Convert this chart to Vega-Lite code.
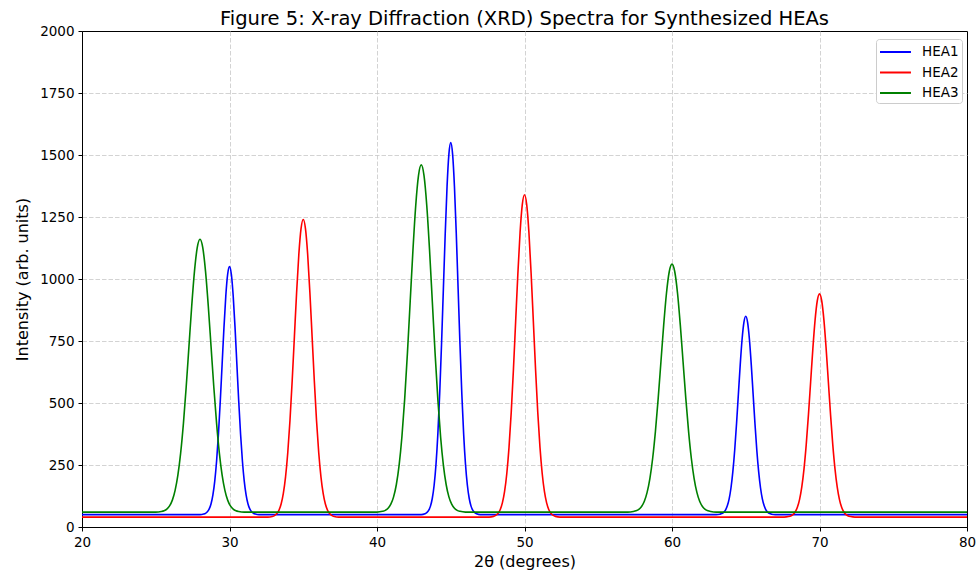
{
"$schema": "https://vega.github.io/schema/vega-lite/v6.json",
"width": 885, "height": 496,
"autosize": {"type": "none"},
"padding": {"left": 82, "top": 31, "right": 11, "bottom": 52},
"background": "white",
"config": {"font": "DejaVu Sans", "view": {"stroke": "black", "strokeWidth": 1}},
"title": {"text": "Figure 5: X-ray Diffraction (XRD) Spectra for Synthesized HEAs", "fontSize": 19.5, "fontWeight": "normal", "color": "black", "offset": 7, "dy": 12, "anchor": "middle"},
"data": {"values": [
{"s":"HEA1","x":20,"y":50},{"s":"HEA1","x":28,"y":50},
{"s":"HEA1","x":28.25,"y":52.2},{"s":"HEA1","x":28.375,"y":55.1},{"s":"HEA1","x":28.5,"y":61.1},{"s":"HEA1","x":28.625,"y":72.8},{"s":"HEA1","x":28.75,"y":93.9},{"s":"HEA1","x":28.875,"y":129.6},{"s":"HEA1","x":29,"y":185.3},{"s":"HEA1","x":29.125,"y":266.3},{"s":"HEA1","x":29.25,"y":374.7},{"s":"HEA1","x":29.375,"y":507.8},{"s":"HEA1","x":29.5,"y":656.5},{"s":"HEA1","x":29.625,"y":804.8},{"s":"HEA1","x":29.75,"y":932.5},{"s":"HEA1","x":29.875,"y":1019.2},{"s":"HEA1","x":30,"y":1050},
{"s":"HEA1","x":30.125,"y":1019.2},{"s":"HEA1","x":30.25,"y":932.5},{"s":"HEA1","x":30.375,"y":804.8},{"s":"HEA1","x":30.5,"y":656.5},{"s":"HEA1","x":30.625,"y":507.8},{"s":"HEA1","x":30.75,"y":374.7},{"s":"HEA1","x":30.875,"y":266.3},{"s":"HEA1","x":31,"y":185.3},{"s":"HEA1","x":31.125,"y":129.6},{"s":"HEA1","x":31.25,"y":93.9},{"s":"HEA1","x":31.375,"y":72.8},{"s":"HEA1","x":31.5,"y":61.1},{"s":"HEA1","x":31.625,"y":55.1},{"s":"HEA1","x":31.75,"y":52.2},{"s":"HEA1","x":32,"y":50},
{"s":"HEA1","x":43,"y":50},
{"s":"HEA1","x":43.25,"y":53.3},{"s":"HEA1","x":43.375,"y":57.6},{"s":"HEA1","x":43.5,"y":66.7},{"s":"HEA1","x":43.625,"y":84.2},{"s":"HEA1","x":43.75,"y":115.9},{"s":"HEA1","x":43.875,"y":169.3},{"s":"HEA1","x":44,"y":253.0},{"s":"HEA1","x":44.125,"y":374.4},{"s":"HEA1","x":44.25,"y":537.0},{"s":"HEA1","x":44.375,"y":736.7},{"s":"HEA1","x":44.5,"y":959.8},{"s":"HEA1","x":44.625,"y":1182.3},{"s":"HEA1","x":44.75,"y":1373.8},{"s":"HEA1","x":44.875,"y":1503.8},{"s":"HEA1","x":45,"y":1550},
{"s":"HEA1","x":45.125,"y":1503.8},{"s":"HEA1","x":45.25,"y":1373.8},{"s":"HEA1","x":45.375,"y":1182.3},{"s":"HEA1","x":45.5,"y":959.8},{"s":"HEA1","x":45.625,"y":736.7},{"s":"HEA1","x":45.75,"y":537.0},{"s":"HEA1","x":45.875,"y":374.4},{"s":"HEA1","x":46,"y":253.0},{"s":"HEA1","x":46.125,"y":169.3},{"s":"HEA1","x":46.25,"y":115.9},{"s":"HEA1","x":46.375,"y":84.2},{"s":"HEA1","x":46.5,"y":66.7},{"s":"HEA1","x":46.625,"y":57.6},{"s":"HEA1","x":46.75,"y":53.3},{"s":"HEA1","x":47,"y":50},
{"s":"HEA1","x":63,"y":50},
{"s":"HEA1","x":63.25,"y":51.8},{"s":"HEA1","x":63.375,"y":54.1},{"s":"HEA1","x":63.5,"y":58.9},{"s":"HEA1","x":63.625,"y":68.2},{"s":"HEA1","x":63.75,"y":85.2},{"s":"HEA1","x":63.875,"y":113.6},{"s":"HEA1","x":64,"y":158.3},{"s":"HEA1","x":64.125,"y":223.0},{"s":"HEA1","x":64.25,"y":309.7},{"s":"HEA1","x":64.375,"y":416.3},{"s":"HEA1","x":64.5,"y":535.2},{"s":"HEA1","x":64.625,"y":653.9},{"s":"HEA1","x":64.75,"y":756.0},{"s":"HEA1","x":64.875,"y":825.4},{"s":"HEA1","x":65,"y":850},
{"s":"HEA1","x":65.125,"y":825.4},{"s":"HEA1","x":65.25,"y":756.0},{"s":"HEA1","x":65.375,"y":653.9},{"s":"HEA1","x":65.5,"y":535.2},{"s":"HEA1","x":65.625,"y":416.3},{"s":"HEA1","x":65.75,"y":309.7},{"s":"HEA1","x":65.875,"y":223.0},{"s":"HEA1","x":66,"y":158.3},{"s":"HEA1","x":66.125,"y":113.6},{"s":"HEA1","x":66.25,"y":85.2},{"s":"HEA1","x":66.375,"y":68.2},{"s":"HEA1","x":66.5,"y":58.9},{"s":"HEA1","x":66.625,"y":54.1},{"s":"HEA1","x":66.75,"y":51.8},{"s":"HEA1","x":67,"y":50},
{"s":"HEA1","x":80,"y":50},

{"s":"HEA2","x":20,"y":40},{"s":"HEA2","x":32.6,"y":40},
{"s":"HEA2","x":32.9,"y":42.6},{"s":"HEA2","x":33.05,"y":46.1},{"s":"HEA2","x":33.2,"y":53.3},{"s":"HEA2","x":33.35,"y":67.3},{"s":"HEA2","x":33.5,"y":92.7},{"s":"HEA2","x":33.65,"y":135.5},{"s":"HEA2","x":33.8,"y":202.4},{"s":"HEA2","x":33.95,"y":299.5},{"s":"HEA2","x":34.1,"y":429.6},{"s":"HEA2","x":34.25,"y":589.4},{"s":"HEA2","x":34.4,"y":767.8},{"s":"HEA2","x":34.55,"y":945.8},{"s":"HEA2","x":34.7,"y":1099.0},{"s":"HEA2","x":34.85,"y":1203.1},{"s":"HEA2","x":35,"y":1240},
{"s":"HEA2","x":35.15,"y":1203.1},{"s":"HEA2","x":35.3,"y":1099.0},{"s":"HEA2","x":35.45,"y":945.8},{"s":"HEA2","x":35.6,"y":767.8},{"s":"HEA2","x":35.75,"y":589.4},{"s":"HEA2","x":35.9,"y":429.6},{"s":"HEA2","x":36.05,"y":299.5},{"s":"HEA2","x":36.2,"y":202.4},{"s":"HEA2","x":36.35,"y":135.5},{"s":"HEA2","x":36.5,"y":92.7},{"s":"HEA2","x":36.65,"y":67.3},{"s":"HEA2","x":36.8,"y":53.3},{"s":"HEA2","x":36.95,"y":46.1},{"s":"HEA2","x":37.1,"y":42.6},{"s":"HEA2","x":37.4,"y":40},
{"s":"HEA2","x":47.6,"y":40},
{"s":"HEA2","x":47.9,"y":42.8},{"s":"HEA2","x":48.05,"y":46.6},{"s":"HEA2","x":48.2,"y":54.4},{"s":"HEA2","x":48.35,"y":69.6},{"s":"HEA2","x":48.5,"y":97.1},{"s":"HEA2","x":48.65,"y":143.4},{"s":"HEA2","x":48.8,"y":215.9},{"s":"HEA2","x":48.95,"y":321.2},{"s":"HEA2","x":49.1,"y":462.0},{"s":"HEA2","x":49.25,"y":635.2},{"s":"HEA2","x":49.4,"y":828.5},{"s":"HEA2","x":49.55,"y":1021.3},{"s":"HEA2","x":49.7,"y":1187.3},{"s":"HEA2","x":49.85,"y":1300.0},{"s":"HEA2","x":50,"y":1340},
{"s":"HEA2","x":50.15,"y":1300.0},{"s":"HEA2","x":50.3,"y":1187.3},{"s":"HEA2","x":50.45,"y":1021.3},{"s":"HEA2","x":50.6,"y":828.5},{"s":"HEA2","x":50.75,"y":635.2},{"s":"HEA2","x":50.9,"y":462.0},{"s":"HEA2","x":51.05,"y":321.2},{"s":"HEA2","x":51.2,"y":215.9},{"s":"HEA2","x":51.35,"y":143.4},{"s":"HEA2","x":51.5,"y":97.1},{"s":"HEA2","x":51.65,"y":69.6},{"s":"HEA2","x":51.8,"y":54.4},{"s":"HEA2","x":51.95,"y":46.6},{"s":"HEA2","x":52.1,"y":42.8},{"s":"HEA2","x":52.4,"y":40},
{"s":"HEA2","x":67.6,"y":40},
{"s":"HEA2","x":67.9,"y":42.0},{"s":"HEA2","x":68.05,"y":44.6},{"s":"HEA2","x":68.2,"y":50.0},{"s":"HEA2","x":68.35,"y":60.5},{"s":"HEA2","x":68.5,"y":79.5},{"s":"HEA2","x":68.65,"y":111.6},{"s":"HEA2","x":68.8,"y":161.8},{"s":"HEA2","x":68.95,"y":234.6},{"s":"HEA2","x":69.1,"y":332.2},{"s":"HEA2","x":69.25,"y":452.0},{"s":"HEA2","x":69.4,"y":585.9},{"s":"HEA2","x":69.55,"y":719.4},{"s":"HEA2","x":69.7,"y":834.3},{"s":"HEA2","x":69.85,"y":912.3},{"s":"HEA2","x":70,"y":940},
{"s":"HEA2","x":70.15,"y":912.3},{"s":"HEA2","x":70.3,"y":834.3},{"s":"HEA2","x":70.45,"y":719.4},{"s":"HEA2","x":70.6,"y":585.9},{"s":"HEA2","x":70.75,"y":452.0},{"s":"HEA2","x":70.9,"y":332.2},{"s":"HEA2","x":71.05,"y":234.6},{"s":"HEA2","x":71.2,"y":161.8},{"s":"HEA2","x":71.35,"y":111.6},{"s":"HEA2","x":71.5,"y":79.5},{"s":"HEA2","x":71.65,"y":60.5},{"s":"HEA2","x":71.8,"y":50.0},{"s":"HEA2","x":71.95,"y":44.6},{"s":"HEA2","x":72.1,"y":42.0},{"s":"HEA2","x":72.4,"y":40},
{"s":"HEA2","x":80,"y":40},

{"s":"HEA3","x":20,"y":60},{"s":"HEA3","x":25,"y":60},
{"s":"HEA3","x":25.375,"y":62.4},{"s":"HEA3","x":25.5625,"y":65.6},{"s":"HEA3","x":25.75,"y":72.2},{"s":"HEA3","x":25.9375,"y":85.1},{"s":"HEA3","x":26.125,"y":108.3},{"s":"HEA3","x":26.3125,"y":147.5},{"s":"HEA3","x":26.5,"y":208.9},{"s":"HEA3","x":26.6875,"y":297.9},{"s":"HEA3","x":26.875,"y":417.1},{"s":"HEA3","x":27.0625,"y":563.6},{"s":"HEA3","x":27.25,"y":727.2},{"s":"HEA3","x":27.4375,"y":890.3},{"s":"HEA3","x":27.625,"y":1030.8},{"s":"HEA3","x":27.8125,"y":1126.2},{"s":"HEA3","x":28,"y":1160},
{"s":"HEA3","x":28.1875,"y":1126.2},{"s":"HEA3","x":28.375,"y":1030.8},{"s":"HEA3","x":28.5625,"y":890.3},{"s":"HEA3","x":28.75,"y":727.2},{"s":"HEA3","x":28.9375,"y":563.6},{"s":"HEA3","x":29.125,"y":417.1},{"s":"HEA3","x":29.3125,"y":297.9},{"s":"HEA3","x":29.5,"y":208.9},{"s":"HEA3","x":29.6875,"y":147.5},{"s":"HEA3","x":29.875,"y":108.3},{"s":"HEA3","x":30.0625,"y":85.1},{"s":"HEA3","x":30.25,"y":72.2},{"s":"HEA3","x":30.4375,"y":65.6},{"s":"HEA3","x":30.625,"y":62.4},{"s":"HEA3","x":31,"y":60},
{"s":"HEA3","x":40,"y":60},
{"s":"HEA3","x":40.375,"y":63.1},{"s":"HEA3","x":40.5625,"y":67.1},{"s":"HEA3","x":40.75,"y":75.6},{"s":"HEA3","x":40.9375,"y":91.9},{"s":"HEA3","x":41.125,"y":121.5},{"s":"HEA3","x":41.3125,"y":171.4},{"s":"HEA3","x":41.5,"y":249.5},{"s":"HEA3","x":41.6875,"y":362.8},{"s":"HEA3","x":41.875,"y":514.5},{"s":"HEA3","x":42.0625,"y":701.0},{"s":"HEA3","x":42.25,"y":909.1},{"s":"HEA3","x":42.4375,"y":1116.8},{"s":"HEA3","x":42.625,"y":1295.5},{"s":"HEA3","x":42.8125,"y":1416.9},{"s":"HEA3","x":43,"y":1460},
{"s":"HEA3","x":43.1875,"y":1416.9},{"s":"HEA3","x":43.375,"y":1295.5},{"s":"HEA3","x":43.5625,"y":1116.8},{"s":"HEA3","x":43.75,"y":909.1},{"s":"HEA3","x":43.9375,"y":701.0},{"s":"HEA3","x":44.125,"y":514.5},{"s":"HEA3","x":44.3125,"y":362.8},{"s":"HEA3","x":44.5,"y":249.5},{"s":"HEA3","x":44.6875,"y":171.4},{"s":"HEA3","x":44.875,"y":121.5},{"s":"HEA3","x":45.0625,"y":91.9},{"s":"HEA3","x":45.25,"y":75.6},{"s":"HEA3","x":45.4375,"y":67.1},{"s":"HEA3","x":45.625,"y":63.1},{"s":"HEA3","x":46,"y":60},
{"s":"HEA3","x":57,"y":60},
{"s":"HEA3","x":57.375,"y":62.2},{"s":"HEA3","x":57.5625,"y":65.1},{"s":"HEA3","x":57.75,"y":71.1},{"s":"HEA3","x":57.9375,"y":82.8},{"s":"HEA3","x":58.125,"y":103.9},{"s":"HEA3","x":58.3125,"y":139.6},{"s":"HEA3","x":58.5,"y":195.3},{"s":"HEA3","x":58.6875,"y":276.3},{"s":"HEA3","x":58.875,"y":384.7},{"s":"HEA3","x":59.0625,"y":517.8},{"s":"HEA3","x":59.25,"y":666.5},{"s":"HEA3","x":59.4375,"y":814.8},{"s":"HEA3","x":59.625,"y":942.5},{"s":"HEA3","x":59.8125,"y":1029.2},{"s":"HEA3","x":60,"y":1060},
{"s":"HEA3","x":60.1875,"y":1029.2},{"s":"HEA3","x":60.375,"y":942.5},{"s":"HEA3","x":60.5625,"y":814.8},{"s":"HEA3","x":60.75,"y":666.5},{"s":"HEA3","x":60.9375,"y":517.8},{"s":"HEA3","x":61.125,"y":384.7},{"s":"HEA3","x":61.3125,"y":276.3},{"s":"HEA3","x":61.5,"y":195.3},{"s":"HEA3","x":61.6875,"y":139.6},{"s":"HEA3","x":61.875,"y":103.9},{"s":"HEA3","x":62.0625,"y":82.8},{"s":"HEA3","x":62.25,"y":71.1},{"s":"HEA3","x":62.4375,"y":65.1},{"s":"HEA3","x":62.625,"y":62.2},{"s":"HEA3","x":63,"y":60},
{"s":"HEA3","x":80,"y":60}
]},
"mark": {"type": "line", "strokeWidth": 1.6, "clip": true, "interpolate": "monotone"},
"encoding": {
"x": {"field": "x", "type": "quantitative", "scale": {"domain": [20, 80], "nice": false, "zero": false},
 "axis": {"title": "2θ (degrees)", "values": [20,30,40,50,60,70,80], "grid": true, "gridDash": [4.5,2], "gridColor": "#c8c8c8", "gridWidth": 0.8,
  "gridOpacity": {"condition": {"test": "datum.value === 20 || datum.value === 80", "value": 0}, "value": 1},
  "tickColor": "black", "domainColor": "black", "labelColor": "black", "labelFontSize": 13.5, "titleFontSize": 16, "titleFontWeight": "normal", "titleColor": "black", "labelPadding": 4, "tickSize": 4, "titlePadding": 5, "labelFlush": false}},
"y": {"field": "y", "type": "quantitative", "scale": {"domain": [0, 2000], "nice": false},
 "axis": {"title": "Intensity (arb. units)", "format": "d", "values": [0,250,500,750,1000,1250,1500,1750,2000], "grid": true, "gridDash": [4.5,2], "gridColor": "#c8c8c8", "gridWidth": 0.8,
  "gridOpacity": {"condition": {"test": "datum.value === 0 || datum.value === 2000", "value": 0}, "value": 1},
  "tickColor": "black", "domainColor": "black", "labelColor": "black", "labelFontSize": 13.5, "titleFontSize": 16, "titleFontWeight": "normal", "titleColor": "black", "labelPadding": 4, "tickSize": 4, "titlePadding": 9, "labelFlush": false}},
"color": {"field": "s", "type": "nominal", "scale": {"domain": ["HEA1","HEA2","HEA3"], "range": ["#0000ff","#ff0000","#008000"]},
 "legend": {"title": null, "orient": "none", "legendX": 794, "legendY": 8, "symbolType": "M-1,0H2.44", "symbolSize": 324, "symbolStrokeWidth": 2, "labelFontSize": 13.5, "labelColor": "black", "padding": 3, "fillColor": "white", "strokeColor": "#cccccc", "cornerRadius": 3, "rowPadding": 3.5, "labelOffset": 23}}
}
}
